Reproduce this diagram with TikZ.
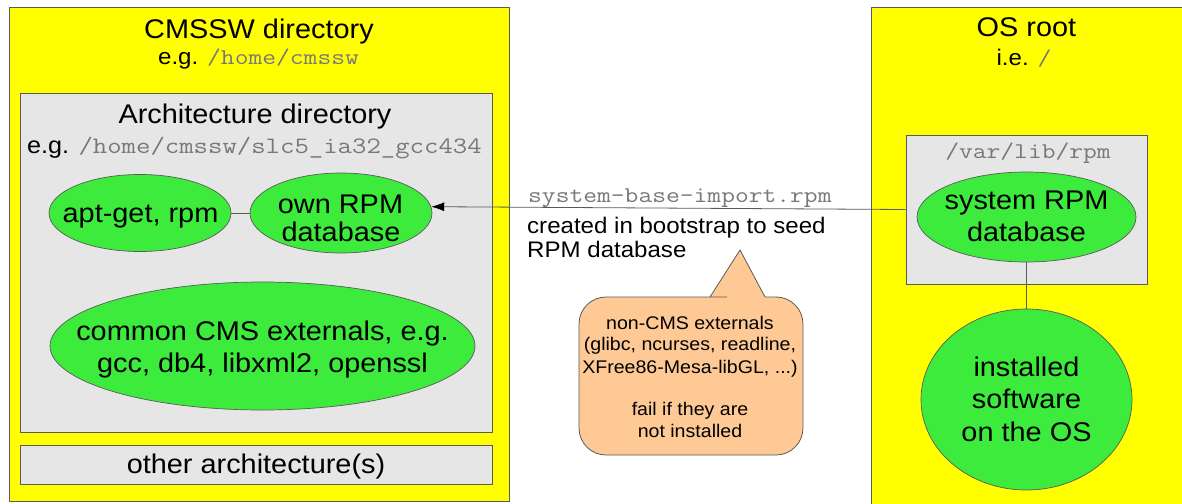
\documentclass[tikz,border=0pt]{standalone}
\usepackage{fontspec}
\setmainfont{Liberation Sans}[FakeStretch=1.07]
\setmonofont{Latin Modern Mono}[FakeStretch=1.19]
\usetikzlibrary{arrows.meta,shapes.geometric}
\definecolor{yel}{RGB}{255,255,0}
\definecolor{boxgray}{RGB}{230,230,230}
\definecolor{grn}{RGB}{61,235,61}
\definecolor{orng}{RGB}{255,201,150}
\definecolor{edge}{RGB}{90,90,90}
\definecolor{monogray}{RGB}{120,120,120}
\newcommand{\fsz}[2]{\fontsize{#1}{#2}\selectfont}
\newcommand{\mtt}[1]{{\ttfamily\color{monogray}#1}}
\begin{document}
\begin{tikzpicture}[x=1pt,y=-1pt,
  yellowbox/.style={rectangle, draw=edge, fill=yel, line width=0.8pt, inner sep=0pt},
  graybox/.style={rectangle, draw=edge, fill=boxgray, line width=0.8pt, inner sep=0pt},
  greenell/.style={ellipse, draw=edge, fill=grn, line width=0.7pt, inner sep=0pt},
  bigtxt/.style={font=\fsz{27}{32}, anchor=base, inner sep=0pt},
  medtxt/.style={font=\fsz{22.5}{24}, anchor=base, inner sep=0pt},
  smalltxt/.style={font=\fsz{18.3}{22}, anchor=base, inner sep=0pt},
  calloutshape/.style={draw=edge, fill=orng, line width=0.8pt},
  link/.style={draw=edge, line width=0.8pt}]
\useasboundingbox (0,0) rectangle (1182,503);
\clip (0,0) rectangle (1182,503);
\fill[white] (0,0) rectangle (1182,503);

% containers
\node[yellowbox, minimum width=500pt, minimum height=494pt] (cmssw) at (259,254) {};
\node[graybox, minimum width=472pt, minimum height=339pt] (arch) at (256,262.5) {};
\node[graybox, minimum width=472pt, minimum height=39pt] (other) at (256,464.5) {};
\node[yellowbox, minimum width=329pt, minimum height=513pt] (osroot) at (1035.5,263.5) {};
\node[graybox, minimum width=241pt, minimum height=149pt] (varbox) at (1026.5,209.5) {};

% ellipses
\node[greenell, minimum width=182pt, minimum height=77pt] (apt) at (140,213) {};
\node[greenell, minimum width=182pt, minimum height=80pt] (own) at (341,213) {};
\node[greenell, minimum width=425pt, minimum height=128pt] (common) at (262.5,346) {};
\node[greenell, minimum width=219pt, minimum height=90pt] (sysrpm) at (1026.5,217) {};
\node[greenell, minimum width=211pt, minimum height=181pt] (installed) at (1026.5,399.5) {};

% callout
\draw[calloutshape] (740,250) -- (765,297) -- (778,297) [rounded corners=27pt] -- (803,297) -- (803,455) -- (579,455) -- (579,297) -- (700,297) [sharp corners] -- (710,297) -- cycle;

% titles
\node[bigtxt] (t1) at (259,38) {CMSSW directory};
\node[medtxt] (t2) at (258.5,64) {e.g. \mtt{/home/cmssw}};
\node[bigtxt] (t3) at (255,123) {Architecture directory};
\node[medtxt, font=\fsz{23.5}{24}] (t4) at (254.5,153) {e.g. \mtt{/home/cmssw/slc5\_ia32\_gcc434}};
\node[bigtxt] (t5) at (1026.5,37) {OS root};
\node[medtxt] (t6) at (1024,65) {i.e. \mtt{/}};
\node[medtxt] (t7) at (1028,158) {\mtt{/var/lib/rpm}};

% ellipse texts
\node[bigtxt] (a1) at (140.5,222) {apt-get, rpm};
\node[bigtxt] (o1) at (340.5,213) {own RPM};
\node[bigtxt] (o2) at (341,241) {database};
\node[bigtxt] (c1) at (262.5,340) {common CMS externals, e.g.};
\node[bigtxt] (c2) at (262.5,372) {gcc, db4, libxml2, openssl};
\node[bigtxt] (oa) at (256,473) {other architecture(s)};
\node[bigtxt] (s1) at (1026.5,209) {system RPM};
\node[bigtxt] (s2) at (1026.5,241) {database};
\node[bigtxt] (i1) at (1026.5,376) {installed};
\node[bigtxt] (i2) at (1026.5,408) {software};
\node[bigtxt] (i3) at (1026.5,441) {on the OS};

% arrow labels
\node[medtxt, anchor=base west] (l1) at (528,202) {\mtt{system-base-import.rpm}};
\node[medtxt, anchor=base west] (l2) at (527,233) {created in bootstrap to seed};
\node[medtxt, anchor=base west] (l3) at (527,257) {RPM database};

% callout text
\node[smalltxt] (k1) at (690,329) {non-CMS externals};
\node[smalltxt] (k2) at (690,350) {(glibc, ncurses, readline,};
\node[smalltxt] (k3) at (690,373) {XFree86-Mesa-libGL, ...)};
\node[smalltxt] (k4) at (690,415) {fail if they are};
\node[smalltxt] (k5) at (690,437) {not installed};

% connectors
\draw[link] (apt) -- (own);
\draw[link] (sysrpm) -- (installed);
\draw[link, -{Latex[length=13pt,width=9pt,color=black,fill=black]}] (varbox.west) -- (own.4);
\end{tikzpicture}
\end{document}
